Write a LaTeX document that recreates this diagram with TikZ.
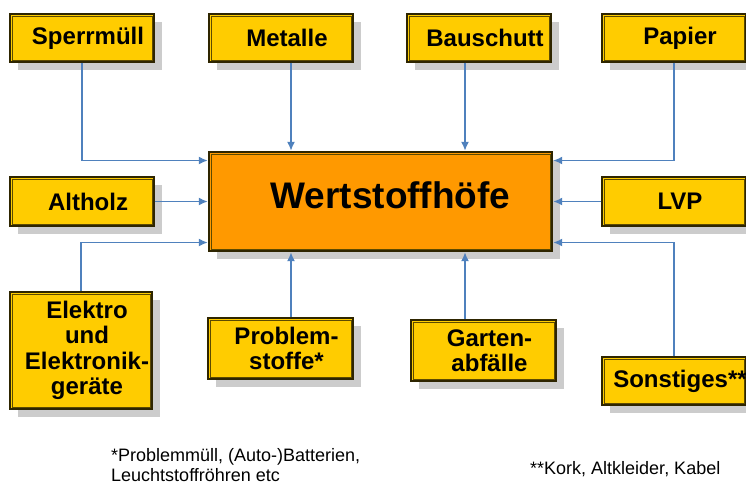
\documentclass[tikz,border=0pt]{standalone}
\usepackage{fontspec}
\setmainfont{Liberation Sans}
\usetikzlibrary{arrows.meta,shadows}
\definecolor{gold}{HTML}{FFCC00}
\definecolor{orng}{HTML}{FF9900}
\definecolor{linkblue}{HTML}{4F81BD}
\definecolor{shad}{HTML}{CCCCCC}
\definecolor{edgec}{HTML}{2E2500}
\definecolor{inedge}{HTML}{5C4A00}
\begin{document}
\begin{tikzpicture}[x=1pt,y=-1pt,
  boxbase/.style={draw=edgec, line width=1.1pt, inner sep=0pt,
    general shadow={fill=shad, shadow xshift=8pt, shadow yshift=-8pt}},
  goldbox/.style={boxbase, fill=gold, minimum width=144pt, minimum height=48pt},
  mainbox/.style={boxbase, fill=orng, minimum width=343pt, minimum height=99pt},
  innerline/.style={draw=inedge, line width=0.9pt},
  boxtext/.style={font=\bfseries\fontsize{24}{25.5}\selectfont, xshift=6pt, align=center, inner sep=0pt},
  maintext/.style={font=\bfseries\fontsize{37}{38}\selectfont, inner sep=0pt},
  foot/.style={font=\fontsize{18}{20}\selectfont, align=left, inner sep=0pt},
  link/.style={draw=linkblue, line width=1.8pt, -{Latex[length=9pt,width=8pt]}, shorten >=0.6pt}
]
\useasboundingbox (0,0) rectangle (746,485);

\node[mainbox] (main) at (380.5,201.5) {};

\node[goldbox] (sperr) at (82,38) {};
\node[goldbox] (metal) at (281,38) {};
\node[goldbox] (bau) at (479,38) {};
\node[goldbox] (papier) at (674,38) {};

\node[goldbox, minimum height=49pt] (altholz) at (82,201.5) {};
\node[goldbox, minimum height=49pt] (lvp) at (674,201.5) {};

\node[goldbox, minimum width=142pt, minimum height=117pt] (elektro) at (81,350.5) {};
\node[goldbox, minimum width=145pt, minimum height=61pt] (problem) at (280.5,348.5) {};
\node[goldbox, minimum width=145pt, minimum height=61pt] (garten) at (483.5,350.5) {};
\node[goldbox] (sonst) at (674,381) {};

\foreach \n in {main,sperr,metal,bau,papier,altholz,lvp,elektro,problem,garten,sonst}
  \draw[innerline] ([shift={(2.6pt,-2.6pt)}]\n.north west) rectangle ([shift={(-2.6pt,2.6pt)}]\n.south east);

\node[maintext] (tmain) at ([xshift=10pt,yshift=6pt]main.center) {Wertstoffhöfe};
\node[boxtext] (tsperr) at (sperr.center) {Sperrmüll};
\node[boxtext] (tmetal) at (metal.center) {Metalle};
\node[boxtext] (tbau) at (bau.center) {Bauschutt};
\node[boxtext] (tpapier) at (papier.center) {Papier};
\node[boxtext] (taltholz) at (altholz.center) {Altholz};
\node[boxtext] (tlvp) at (lvp.center) {LVP};
\node[boxtext] (telektro) at (elektro.center) {Elektro\\und\\Elektronik-\\geräte};
\node[boxtext] (tproblem) at (problem.center) {Problem-\\stoffe*};
\node[boxtext] (tgarten) at (garten.center) {Garten-\\abfälle};
\node[boxtext] (tsonst) at (sonst.center) {Sonstiges**};

\draw[link] (sperr.south) |- ([yshift=41pt]main.west);
\draw[link] ([xshift=10pt]metal.south) -- ([xshift=10pt]metal.south |- main.north);
\draw[link] ([xshift=-14pt]bau.south) -- ([xshift=-14pt]bau.south |- main.north);
\draw[link] (papier.south) |- ([yshift=41pt]main.east);
\draw[link] (altholz.east) -- (altholz.east -| main.west);
\draw[link] (lvp.west) -- (lvp.west -| main.east);
\draw[link] (elektro.north) |- ([yshift=-41pt]main.west);
\draw[link] ([xshift=10.5pt]problem.north) -- ([xshift=10.5pt]problem.north |- main.south);
\draw[link] ([xshift=-18.5pt]garten.north) -- ([xshift=-18.5pt]garten.north |- main.south);
\draw[link] (sonst.north) |- ([yshift=-41pt]main.east);

\node[foot, anchor=north west] (fn1) at (111,448) {*Problemmüll, (Auto-)Batterien,\\Leuchtstoffröhren etc};
\node[foot, anchor=base west] (fn2) at (530,474) {**Kork, Altkleider, Kabel};
\end{tikzpicture}
\end{document}
